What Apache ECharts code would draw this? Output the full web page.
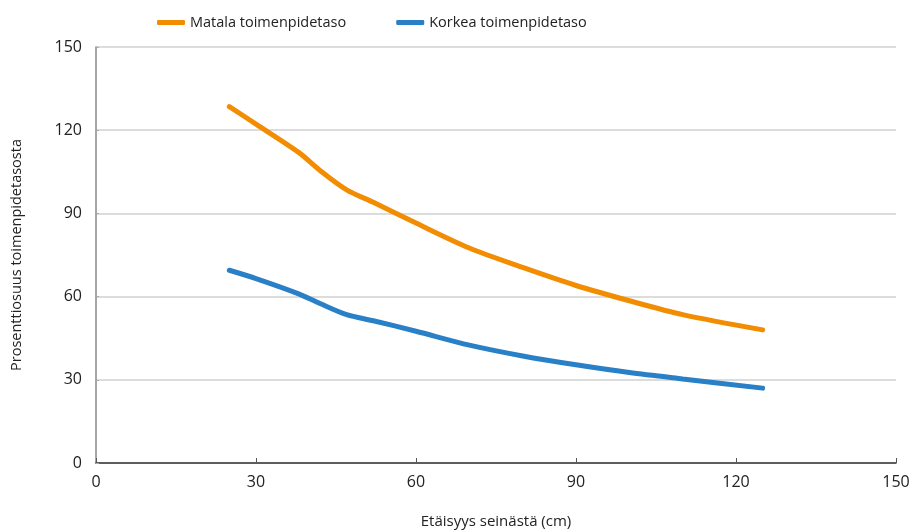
<!DOCTYPE html>
<html>
<head>
<meta charset="utf-8">
<script src="https://cdn.jsdelivr.net/npm/echarts@6/dist/echarts.min.js"></script>
<style>
  html, body { margin: 0; padding: 0; background: #fff; }
  #chart { width: 915px; height: 530px; }
</style>
</head>
<body>
<div id="chart"></div>
<script>
// Distance from the wall (cm) and percentage of the action level
const distances = [25, 30, 38, 42, 47, 52, 60, 70, 80, 90, 100, 110, 125];
const matala = [128.5, 122.2, 112, 105.5, 98.5, 94, 86.5, 77.5, 70.5, 64, 58.5, 53.5, 48];
const korkea = [69.5, 66.5, 61, 57.5, 53.5, 51.3, 47.5, 42.5, 38.6, 35.4, 32.6, 30.3, 27];
const axisTicks = [0, 30, 60, 90, 120, 150];

const seriesNames = ['Matala toimenpidetaso', 'Korkea toimenpidetaso'];
const seriesColors = ['#F28C00', '#2A80C6'];

const FONT = 'Open Sans';

function pairs(xs, ys) {
  return xs.map((x, i) => [x, ys[i]]);
}

const chart = echarts.init(document.getElementById('chart'), null, { renderer: 'canvas' });

chart.setOption({
  animation: false,
  textStyle: { fontFamily: FONT },
  legend: {
    top: 10,
    left: 152,
    icon: 'roundRect',
    itemWidth: 28,
    itemHeight: 5,
    itemGap: 50,
    textStyle: { fontSize: 14.5, color: '#222', fontFamily: FONT },
    data: seriesNames
  },
  grid: { left: 96, right: 19, top: 47, bottom: 67, outerBoundsMode: 'none', containLabel: false },
  xAxis: {
    type: 'value',
    min: axisTicks[0],
    max: axisTicks[axisTicks.length - 1],
    interval: 30,
    name: 'Etäisyys seinästä (cm)',
    nameLocation: 'middle',
    nameGap: 51,
    nameTextStyle: { fontSize: 15, color: '#222', fontFamily: FONT },
    axisLine: { lineStyle: { color: '#333', width: 1.5 } },
    axisTick: { inside: true, length: 5, lineStyle: { color: '#555' } },
    axisLabel: { fontSize: 16, color: '#222', margin: 11, fontFamily: FONT },
    splitLine: { show: false }
  },
  yAxis: {
    type: 'value',
    min: axisTicks[0],
    max: axisTicks[axisTicks.length - 1],
    interval: 30,
    name: 'Prosenttiosuus toimenpidetasosta',
    nameLocation: 'middle',
    nameRotate: 90,
    nameGap: 72,
    nameTextStyle: { fontSize: 14.5, color: '#222', fontFamily: FONT },
    axisLine: { show: true, lineStyle: { color: '#888', width: 1.5 } },
    axisTick: { show: true, inside: true, length: 3, lineStyle: { color: '#aaa' } },
    axisLabel: { fontSize: 16, color: '#222', margin: 14, fontFamily: FONT },
    splitLine: { show: true, lineStyle: { color: '#d0d0d0', width: 1.5 } }
  },
  series: [
    {
      name: seriesNames[0],
      type: 'line',
      data: pairs(distances, matala),
      smooth: 0.3,
      showSymbol: false,
      symbol: 'none',
      color: seriesColors[0],
      lineStyle: { width: 5, color: seriesColors[0], cap: 'round' }
    },
    {
      name: seriesNames[1],
      type: 'line',
      data: pairs(distances, korkea),
      smooth: 0.3,
      showSymbol: false,
      symbol: 'none',
      color: seriesColors[1],
      lineStyle: { width: 5, color: seriesColors[1], cap: 'round' }
    }
  ]
});
</script>
</body>
</html>
